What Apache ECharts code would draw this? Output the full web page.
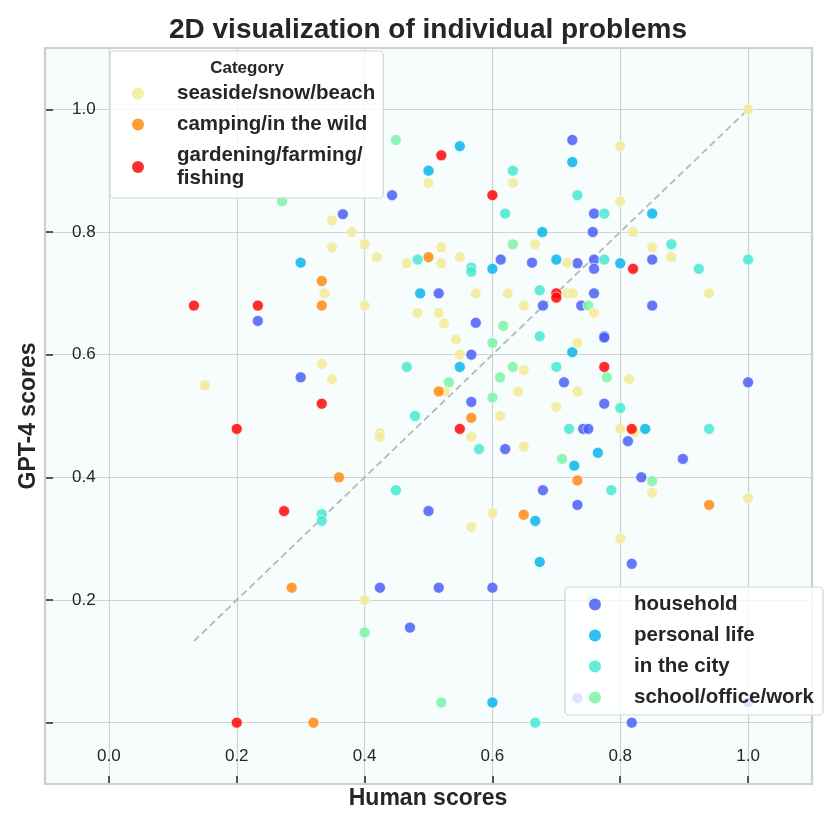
<!DOCTYPE html>
<html>
<head>
<meta charset="utf-8">
<script src="https://cdn.jsdelivr.net/npm/echarts@6/dist/echarts.min.js"></script>
<style>
  html, body { margin: 0; padding: 0; background: #fff; }
  #chart { width: 830px; height: 830px; }
</style>
</head>
<body>
<div id="chart"></div>
<script>
var FONT = '"Liberation Sans", Arial, sans-serif';

// points: [human score, GPT-4 score]
var householdPts = [
  [0.443, 0.860], [0.366, 0.829], [0.233, 0.655], [0.300, 0.563], [0.424, 0.220],
  [0.471, 0.155], [0.725, 0.950], [0.759, 0.830], [0.757, 0.800], [0.613, 0.755],
  [0.662, 0.750], [0.733, 0.749], [0.759, 0.755], [0.759, 0.740], [0.850, 0.755],
  [0.516, 0.700], [0.759, 0.700], [0.679, 0.680], [0.739, 0.680], [0.850, 0.680],
  [0.574, 0.652], [0.775, 0.630], [0.775, 0.628], [0.567, 0.600], [0.712, 0.555],
  [1.000, 0.555], [0.567, 0.523], [0.775, 0.520], [0.742, 0.479], [0.750, 0.479],
  [0.620, 0.446], [0.812, 0.459], [0.898, 0.430], [0.833, 0.400], [0.679, 0.379],
  [0.733, 0.355], [0.500, 0.345], [0.818, 0.259], [0.516, 0.220], [0.600, 0.220],
  [0.818, 0.000], [0.733, 0.040], [1.000, 0.033]
];
var personalPts = [
  [0.300, 0.750], [0.549, 0.940], [0.725, 0.914], [0.500, 0.900], [0.850, 0.830],
  [0.678, 0.800], [0.600, 0.740], [0.700, 0.755], [0.800, 0.749], [0.487, 0.700],
  [0.549, 0.580], [0.725, 0.604], [0.839, 0.479], [0.765, 0.440], [0.728, 0.419],
  [0.667, 0.329], [0.674, 0.262], [0.600, 0.033]
];
var cityPts = [
  [0.466, 0.580], [0.333, 0.340], [0.333, 0.329], [0.449, 0.379], [0.632, 0.900],
  [0.733, 0.860], [0.620, 0.830], [0.775, 0.830], [0.880, 0.780], [0.483, 0.755],
  [0.567, 0.742], [0.567, 0.735], [0.775, 0.755], [0.923, 0.740], [1.000, 0.755],
  [0.674, 0.705], [0.674, 0.630], [0.700, 0.580], [0.800, 0.513], [0.479, 0.500],
  [0.579, 0.446], [0.720, 0.479], [0.939, 0.479], [0.786, 0.379], [0.667, 0.000]
];
var schoolPts = [
  [0.449, 0.950], [0.271, 0.850], [0.632, 0.780], [0.750, 0.680], [0.617, 0.647],
  [0.600, 0.619], [0.632, 0.580], [0.532, 0.555], [0.612, 0.563], [0.779, 0.563],
  [0.600, 0.530], [0.709, 0.430], [0.850, 0.394], [0.400, 0.147], [0.520, 0.033],
  [0.755, 0.200]
];
var seasidePts = [
  [0.349, 0.819], [0.380, 0.800], [0.349, 0.775], [0.400, 0.780], [0.419, 0.759],
  [0.466, 0.749], [0.337, 0.700], [0.400, 0.680], [0.333, 0.585], [0.349, 0.560],
  [0.150, 0.550], [0.424, 0.472], [0.424, 0.466], [0.400, 0.200], [1.000, 1.000],
  [0.800, 0.940], [0.500, 0.880], [0.632, 0.880], [0.800, 0.850], [0.820, 0.800],
  [0.667, 0.780], [0.850, 0.775], [0.520, 0.775], [0.520, 0.749], [0.549, 0.759],
  [0.717, 0.750], [0.880, 0.759], [0.574, 0.700], [0.624, 0.700], [0.717, 0.700],
  [0.726, 0.700], [0.939, 0.700], [0.649, 0.680], [0.483, 0.668], [0.516, 0.668],
  [0.524, 0.651], [0.759, 0.668], [0.543, 0.625], [0.733, 0.619], [0.549, 0.600],
  [0.649, 0.575], [0.814, 0.560], [0.525, 0.540], [0.640, 0.540], [0.733, 0.540],
  [0.700, 0.515], [0.612, 0.500], [0.567, 0.466], [0.649, 0.450], [0.800, 0.479],
  [0.822, 0.474], [0.850, 0.375], [1.000, 0.366], [0.600, 0.342], [0.567, 0.319],
  [0.800, 0.300]
];
var campingPts = [
  [0.333, 0.720], [0.333, 0.680], [0.360, 0.400], [0.286, 0.220], [0.320, 0.000],
  [0.500, 0.759], [0.516, 0.540], [0.567, 0.497], [0.733, 0.395], [0.939, 0.355],
  [0.649, 0.339]
];
var gardeningPts = [
  [0.133, 0.680], [0.233, 0.680], [0.333, 0.520], [0.200, 0.479], [0.274, 0.345],
  [0.200, 0.000], [0.520, 0.925], [0.600, 0.860], [0.820, 0.740], [0.700, 0.700],
  [0.700, 0.693], [0.775, 0.580], [0.549, 0.479], [0.818, 0.479]
];
var diagonal = [[0.133, 0.133], [1.0, 1.0]];

var legendTop = ['seaside/snow/beach', 'camping/in the wild', 'gardening/farming/fishing'];
var legendBottom = ['household', 'personal life', 'in the city', 'school/office/work'];

var groups = [
  { name: 'household', data: householdPts, color: '#4a5ff5' },
  { name: 'personal life', data: personalPts, color: '#09b5eb' },
  { name: 'in the city', data: cityPts, color: '#48e9d1' },
  { name: 'school/office/work', data: schoolPts, color: '#7bf3a8' },
  { name: 'seaside/snow/beach', data: seasidePts, color: '#f1eb99' },
  { name: 'camping/in the wild', data: campingPts, color: '#ff8c12' },
  { name: 'gardening/farming/fishing', data: gardeningPts, color: '#ff0808' }
];

var chart = echarts.init(document.getElementById('chart'));

function tickText(v) {
  if (v < -0.01 || v > 1.01) return '';
  return v.toFixed(1);
}

var series = [{
  type: 'line',
  data: diagonal,
  symbol: 'none',
  silent: true,
  z: 1,
  lineStyle: { color: '#b8b8b8', width: 1.8, type: [7, 4] }
}];
groups.forEach(function (g) {
  series.push({
    name: g.name,
    type: 'scatter',
    data: g.data,
    symbolSize: 11,
    z: 2,
    itemStyle: { color: g.color, opacity: 0.85, borderColor: '#ffffff', borderWidth: 0.7 }
  });
});

var legendText = {
  fontFamily: FONT, fontSize: 20.5, fontWeight: 'bold', color: '#262626',
  lineHeight: 23, padding: [0, 0, 0, 28]
};

var option = {
  animation: false,
  grid: {
    left: 45, top: 48, width: 767, height: 736,
    show: true, backgroundColor: '#f7fcfd', borderColor: '#cfcfcf', borderWidth: 1.5
  },
  xAxis: {
    type: 'value', min: -0.1, max: 1.1, splitNumber: 6,
    axisLine: { show: false, onZero: false },
    axisTick: { inside: true, length: 8, lineStyle: { color: '#262626', width: 1.5 } },
    axisLabel: { inside: true, margin: 19, fontFamily: FONT, fontSize: 17, color: '#262626', formatter: tickText },
    splitLine: { lineStyle: { color: '#d2d2d2', width: 1.2 } }
  },
  yAxis: {
    type: 'value', min: -0.1, max: 1.1, splitNumber: 6,
    axisLine: { show: false, onZero: false },
    axisTick: { inside: true, length: 8, lineStyle: { color: '#262626', width: 1.5 } },
    axisLabel: {
      inside: true, margin: 27, fontFamily: FONT, fontSize: 17, color: '#262626',
      formatter: function (v) { return Math.abs(v) < 1e-6 ? '' : tickText(v); }
    },
    splitLine: { lineStyle: { color: '#d2d2d2', width: 1.2 } }
  },
  legend: [{
    data: legendTop,
    orient: 'vertical', left: 110, top: 51,
    padding: [31, 8, 8, 22], itemGap: 8, itemWidth: 12, itemHeight: 12, icon: 'circle',
    itemStyle: { borderWidth: 0 },
    backgroundColor: 'rgba(255,255,255,0.8)', borderColor: '#d6d6d6', borderWidth: 1.2, borderRadius: 4,
    formatter: function (n) { return n === 'gardening/farming/fishing' ? 'gardening/farming/\nfishing' : n; },
    textStyle: legendText
  }, {
    data: legendBottom,
    orient: 'vertical', left: 565, top: 587,
    padding: [6, 9, 6, 24], itemGap: 8, itemWidth: 12, itemHeight: 12, icon: 'circle',
    itemStyle: { borderWidth: 0 },
    backgroundColor: 'rgba(255,255,255,0.8)', borderColor: '#d6d6d6', borderWidth: 1.2, borderRadius: 4,
    textStyle: legendText
  }],
  graphic: [
    // frame redrawn over the axes so the end ticks at -0.1 / 1.1 disappear
    { type: 'rect', z: 1, silent: true, shape: { x: 45, y: 48, width: 767, height: 736 },
      style: { fill: 'none', stroke: '#cfcfcf', lineWidth: 2.2 } },
    { type: 'text', z: 100, style: { text: '2D visualization of individual problems', x: 428, y: 30,
      textAlign: 'center', textVerticalAlign: 'middle', font: 'bold 28px ' + FONT, fill: '#262626' } },
    { type: 'text', z: 100, style: { text: 'Category', x: 247, y: 68,
      textAlign: 'center', textVerticalAlign: 'middle', font: 'bold 17px ' + FONT, fill: '#262626' } },
    { type: 'text', z: 100, style: { text: 'Human scores', x: 428, y: 799,
      textAlign: 'center', textVerticalAlign: 'middle', font: 'bold 23px ' + FONT, fill: '#262626' } },
    { type: 'text', z: 100, x: 29, y: 416, rotation: Math.PI / 2, style: { text: 'GPT-4 scores', x: 0, y: 0,
      textAlign: 'center', textVerticalAlign: 'middle', font: 'bold 23px ' + FONT, fill: '#262626' } }
  ],
  series: series
};

chart.setOption(option);
window.onresize = chart.resize;
</script>
</body>
</html>
